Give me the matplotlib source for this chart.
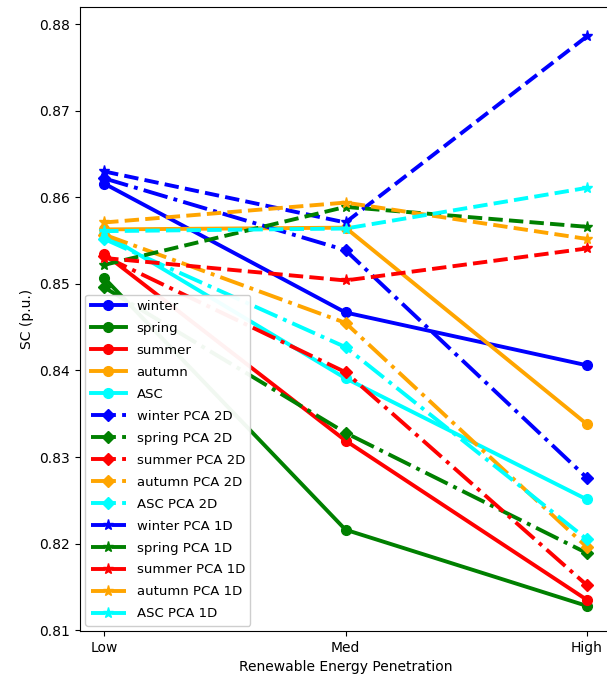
import numpy as np
import matplotlib.pyplot as plt

# penetration levels
levels = ["Low", "Med", "High"]
seasons = ["winter", "spring", "summer", "autumn", "ASC"]
colors = ["blue", "green", "red", "orange", "cyan"]

# SC values (Low, Med, High)
sc_full = [
    [0.8616, 0.8467, 0.8406],   # winter
    [0.8507, 0.8216, 0.8128],   # spring
    [0.8535, 0.8319, 0.8135],   # summer
    [0.8563, 0.8565, 0.8338],   # autumn
    [0.8558, 0.8391, 0.8251],   # ASC
]
sc_pca2d = [
    [0.8622, 0.8539, 0.8276],
    [0.8496, 0.8328, 0.8189],
    [0.8532, 0.8398, 0.8152],
    [0.8557, 0.8455, 0.8196],
    [0.8552, 0.8427, 0.8205],
]
sc_pca1d = [
    [0.8630, 0.8571, 0.8786],
    [0.8522, 0.8589, 0.8566],
    [0.8530, 0.8504, 0.8541],
    [0.8571, 0.8594, 0.8552],
    [0.8561, 0.8564, 0.8611],
]

fig = plt.figure(figsize=(6.07, 6.84), dpi=100)
ax = fig.add_axes([0.1318, 0.0775, 0.8748, 0.9123])
x = np.arange(len(levels))

for name, c, y in zip(seasons, colors, sc_full):
    ax.plot(x, y, '-o', color=c, lw=2.8, ms=7, label=name)
for name, c, y in zip(seasons, colors, sc_pca2d):
    ax.plot(x, y, '-.D', color=c, lw=2.8, ms=6, label=name + " PCA 2D")
for name, c, y in zip(seasons, colors, sc_pca1d):
    ax.plot(x, y, '--*', color=c, lw=2.8, ms=8, label=name + " PCA 1D")

ax.set_xticks(x)
ax.set_xticklabels(levels, fontsize=10)
ax.set_xlim(-0.1, 2.1)
ax.set_ylim(0.8099, 0.882)
ax.set_yticks([0.81, 0.82, 0.83, 0.84, 0.85, 0.86, 0.87, 0.88])
ax.tick_params(labelsize=10)
ax.set_xlabel("Renewable Energy Penetration", fontsize=10)
ax.set_ylabel("SC (p.u.)", fontsize=10)
ax.legend(loc="lower left", fontsize=9.5, labelspacing=0.68, handlelength=2.7,
          framealpha=0.95, borderaxespad=0.4)

fig.savefig("out.png", dpi=100)
